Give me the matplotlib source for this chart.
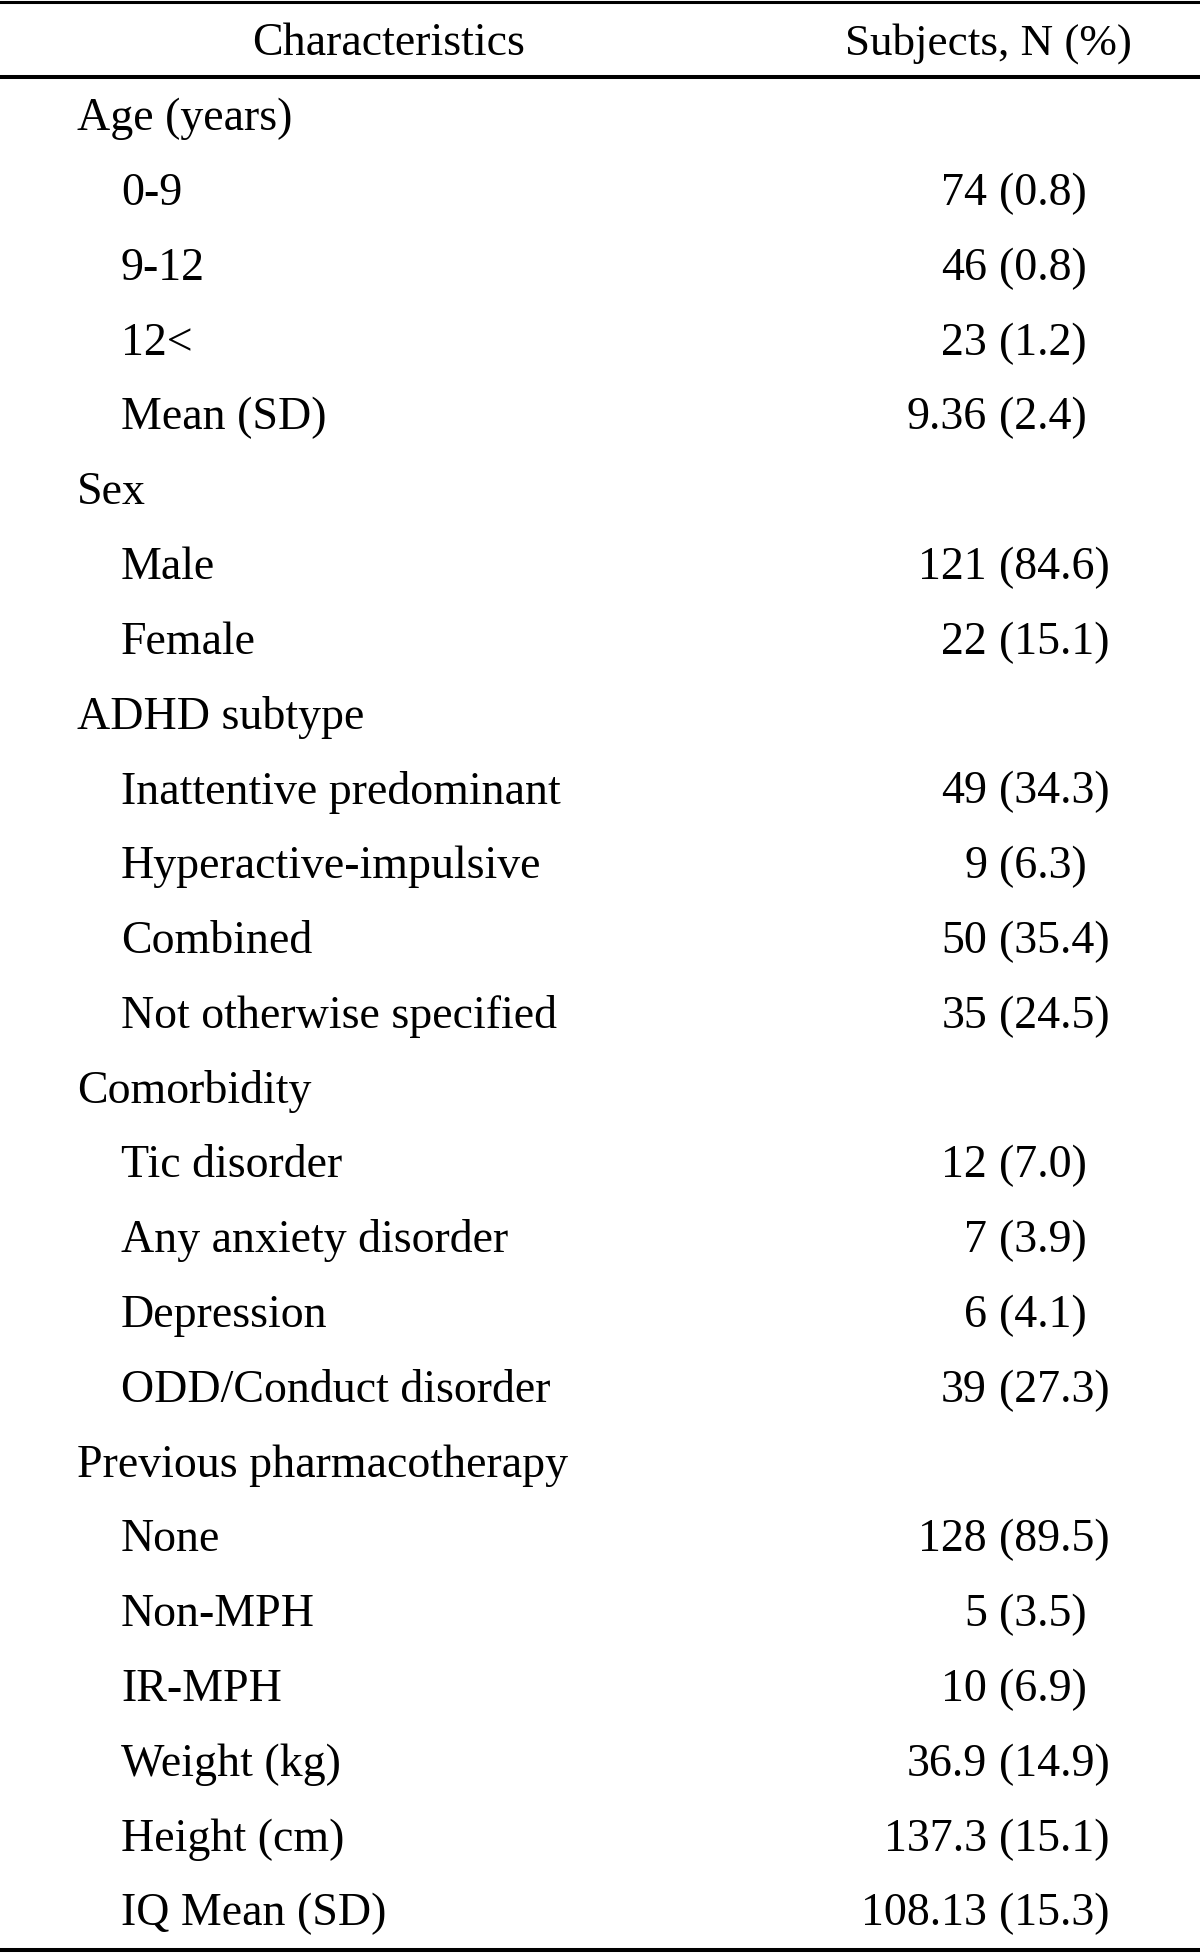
import matplotlib
matplotlib.use("Agg")
import matplotlib.pyplot as plt

# table content, row by row
labels = ["Age (years)", "0-9", "9-12", "12<", "Mean (SD)",
          "Sex", "Male", "Female",
          "ADHD subtype", "Inattentive predominant", "Hyperactive-impulsive",
          "Combined", "Not otherwise specified",
          "Comorbidity", "Tic disorder", "Any anxiety disorder", "Depression",
          "ODD/Conduct disorder",
          "Previous pharmacotherapy", "None", "Non-MPH", "IR-MPH",
          "Weight (kg)", "Height (cm)", "IQ Mean (SD)"]
indent = [0, 1, 1, 1, 1,
          0, 1, 1,
          0, 1, 1, 1, 1,
          0, 1, 1, 1, 1,
          0, 1, 1, 1,
          1, 1, 1]
counts = ["", "74", "46", "23", "9.36",
          "", "121", "22",
          "", "49", "9", "50", "35",
          "", "12", "7", "6", "39",
          "", "128", "5", "10",
          "36.9", "137.3", "108.13"]
pcts = ["", "(0.8)", "(0.8)", "(1.2)", "(2.4)",
        "", "(84.6)", "(15.1)",
        "", "(34.3)", "(6.3)", "(35.4)", "(24.5)",
        "", "(7.0)", "(3.9)", "(4.1)", "(27.3)",
        "", "(89.5)", "(3.5)", "(6.9)",
        "(14.9)", "(15.1)", "(15.3)"]
headers = ["Characteristics", "Subjects, N (%)"]

W, H = 1200, 1953
fig = plt.figure(figsize=(W / 100, H / 100), dpi=100)
ax = fig.add_axes([0, 0, 1, 1])
ax.set_xlim(0, W)
ax.set_ylim(H, 0)
ax.axis("off")

font = dict(family="Liberation Serif", fontsize=33, color="black")

# rules
ax.axhline(1.5, color="black", lw=2.2)
ax.axhline(77, color="black", lw=2.9)
ax.axhline(1950, color="black", lw=2.9)

ax.text(389, 44, headers[0], ha="center", va="center", **font)
ax.text(988, 44, headers[1], ha="center", va="center", fontsize=32.5,
        family="Liberation Serif")

y0, pitch = 119, 74.8
for i, lab in enumerate(labels):
    y = y0 + i * pitch
    ax.text(77 + 44 * indent[i], y, lab, ha="left", va="center", **font)
    if counts[i]:
        # numbers right-aligned, brackets lined up on the "("
        ax.text(987, y, counts[i], ha="right", va="center", **font)
        ax.text(999, y, pcts[i], ha="left", va="center", **font)

fig.savefig("out.png", dpi=100)
